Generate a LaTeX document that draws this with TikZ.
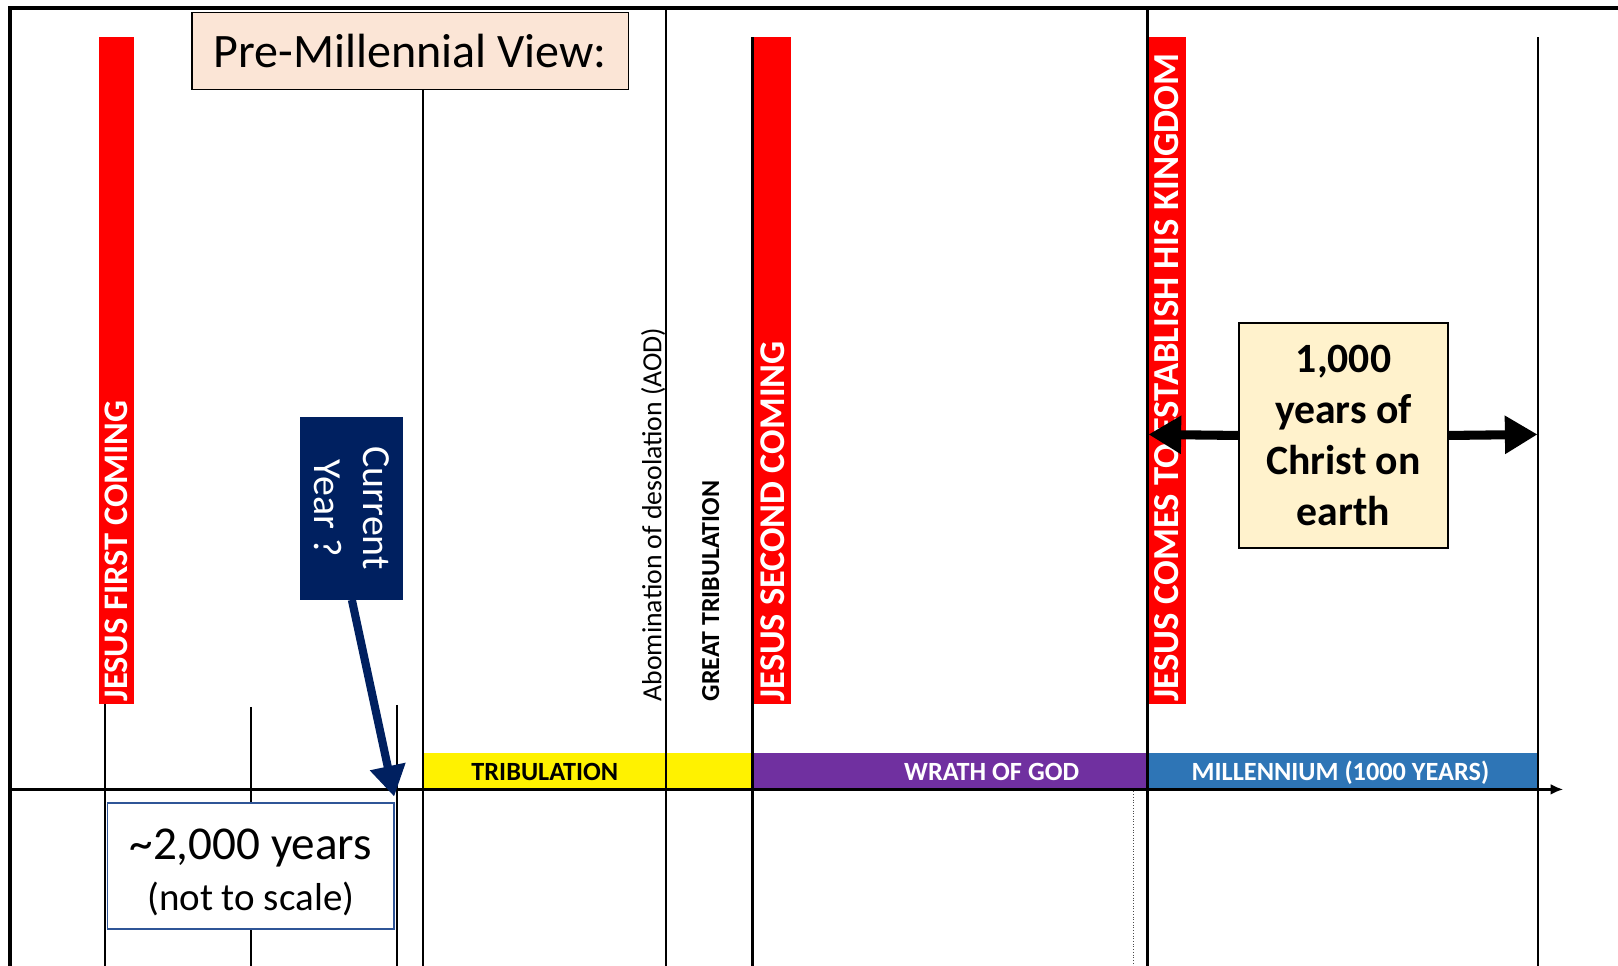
\documentclass[tikz,border=0pt]{standalone}
\usepackage{fontspec}
\setmainfont{Carlito}
\usepackage{tikz}
\usetikzlibrary{arrows.meta}
\usetikzlibrary{calc}
\definecolor{barred}{HTML}{FF0000}
\definecolor{navy}{HTML}{002060}
\definecolor{wrath}{HTML}{7030A0}
\definecolor{mill}{HTML}{2E75B6}
\definecolor{peach}{HTML}{FBE5D6}
\definecolor{cream}{HTML}{FFF2CC}
\definecolor{boxblue}{HTML}{2F5597}

\begin{document}
\begin{tikzpicture}[x=0.02cm, y=-0.02cm,
	tick/.style={line width=1.1pt},
	bartext/.style={rotate=90, anchor=base west, inner sep=0pt, text=white, font=\fontsize{#1}{#1}\selectfont\bfseries},
	bandtext/.style={anchor=base, inner sep=0pt, font=\fontsize{14.5}{14.5}\selectfont\bfseries},
	sidetext/.style={rotate=90, anchor=base west, inner sep=0pt},
	fat/.style={line width=5pt, -{Triangle[length=18pt,width=20pt]}}
]
\useasboundingbox (0,0) rectangle (1568,936);

% coloured bands above the axis
\fill[yellow] (410,730) rectangle (729,765);
\fill[wrath] (729,730) rectangle (1112,765);
\fill[mill] (1112,730) rectangle (1490,765);

% red bars
\fill[barred] (96,36) rectangle (130,682);
\fill[barred] (731,36) rectangle (767,682);
\fill[barred] (1113,36) rectangle (1149,682);

% frame and verticals
\draw[line width=2.4pt] (10,936) -- (10,8) -- (1568,8);
\draw[tick] (102,682) -- (102,936);
\draw[tick] (243,685) -- (243,936);
\draw[tick] (385,683) -- (385,936);
\draw[tick] (410,87) -- (410,936);
\draw[tick] (645,8) -- (645,936);
\draw[line width=1.5pt] (729,36) -- (729,936);
\draw[line width=1.5pt] (1112,8) -- (1112,936);
\draw[tick] (1490,36) -- (1490,936);
\draw[densely dotted, line width=0.5pt, black!70] (1098,767) -- (1098,936);

% texts
\node[bartext=19] (first) at (124,680) {JESUS FIRST COMING};
\node[bartext=20] (second) at (760,680) {JESUS SECOND COMING};
\node[bartext=20.2] (kingdom) at (1142,680) {JESUS COMES TO ESTABLISH HIS KINGDOM};
\node[sidetext, font=\fontsize{15.3}{15.3}\selectfont] (aod) at (641,680) {Abomination of desolation (AOD)};
\node[sidetext, font=\fontsize{14.3}{14.3}\selectfont\bfseries] (great) at (697,680) {GREAT TRIBULATION};
\node[bandtext] (trib) at (528,756) {TRIBULATION};
\node[bandtext, text=white] (wog) at (961,756) {WRATH OF GOD};
\node[bandtext, text=white] (millen) at (1299,756) {MILLENNIUM (1000 YEARS)};

% axis
\draw[line width=1.8pt, -{Latex[length=7pt,width=6pt]}] (10,765) -- (1515,765);

% boxes
\node[draw, fill=peach, line width=0.8pt, minimum width=8.46cm, minimum height=1.5cm, font=\fontsize{26.5}{30}\selectfont] (title) at (397.5,49.5) {Pre-Millennial View:};
\node[fill=navy, text=white, rotate=-90, minimum width=3.54cm, minimum height=2cm, align=center, font=\fontsize{22}{26.6}\selectfont] (cur) at (341,492.5) {Current\\Year ?};
\coordinate (now) at (382,772);
\draw[navy, line width=4.5pt, -{Triangle[length=17pt,width=19pt]}] (cur.east) -- (now);
\node[draw=boxblue, line width=0.9pt, fill=white, minimum width=5.56cm, minimum height=2.44cm] (span) at (243,839) {};
\node[align=center, inner sep=0pt, font=\fontsize{21.5}{28.5}\selectfont] (spantext) at ([yshift=-3.6pt]span.center) {{\fontsize{26}{28.5}\selectfont\textasciitilde 2,000 years}\\(not to scale)};

\coordinate (kstart) at (1113,421);
\coordinate (kend) at (1490,421);
\node[draw, fill=cream, line width=1pt, minimum width=4.04cm, minimum height=4.36cm, align=center, font=\fontsize{23}{28}\selectfont\bfseries] (thou) at (1302,422) {1,000\\years of\\Christ on\\earth};
\draw[fat] (thou.west) -- (kstart);
\draw[fat] (thou.east) -- (kend);
\end{tikzpicture}
\end{document}
